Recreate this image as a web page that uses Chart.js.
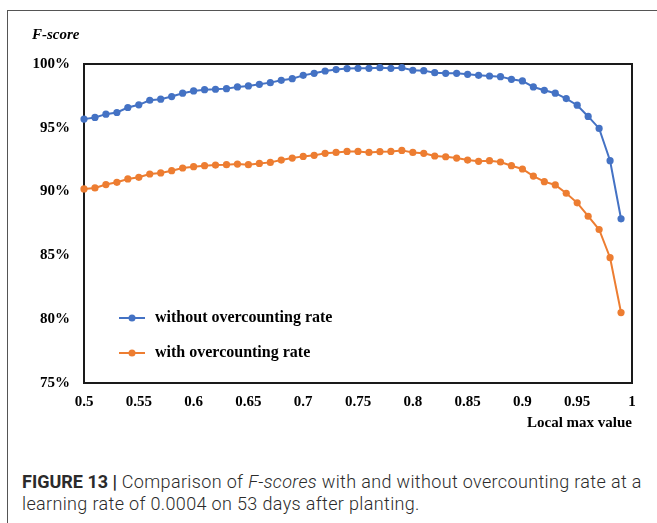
<!DOCTYPE html>
<html>
<head>
<meta charset="utf-8">
<script src="https://cdn.jsdelivr.net/npm/chart.js@4"></script>
<style>
  html, body { margin: 0; padding: 0; background: #fff; }
  #wrap { position: relative; width: 657px; height: 523px; overflow: hidden; background: #fff; }
  #frame { position: absolute; left: 7px; top: 10px; width: 700px; height: 600px;
           border-top: 1px solid #555; border-left: 1px solid #555; }
  #c { position: absolute; left: 0; top: 0; }
  #caption { position: absolute; left: 22px; top: 471px; width: 640px;
             font-family: Roboto, "Liberation Sans", sans-serif; font-weight: 300;
             font-size: 18px; letter-spacing: 0.35px; line-height: 22px; color: #2b2b2b; white-space: nowrap; }
  #caption b { font-weight: 700; letter-spacing: 0; }
</style>
</head>
<body>
<div id="wrap">
  <div id="frame"></div>
  <canvas id="c" width="657" height="440"></canvas>
  <div id="caption"><b>FIGURE 13 |</b> Comparison of <i>F-scores</i> with and without overcounting rate at a<br>learning rate of 0.0004 on 53 days after planting.</div>
</div>
<script>
// Local max threshold values (x)
const localMax = [
  0.50, 0.51, 0.52, 0.53, 0.54, 0.55, 0.56, 0.57, 0.58, 0.59,
  0.60, 0.61, 0.62, 0.63, 0.64, 0.65, 0.66, 0.67, 0.68, 0.69,
  0.70, 0.71, 0.72, 0.73, 0.74, 0.75, 0.76, 0.77, 0.78, 0.79,
  0.80, 0.81, 0.82, 0.83, 0.84, 0.85, 0.86, 0.87, 0.88, 0.89,
  0.90, 0.91, 0.92, 0.93, 0.94, 0.95, 0.96, 0.97, 0.98, 0.99
];

// F-score (%) without overcounting rate
const withoutOvercounting = [
  95.68, 95.81, 96.07, 96.20, 96.59, 96.80, 97.16, 97.24, 97.45, 97.71,
  97.89, 97.99, 98.02, 98.07, 98.20, 98.28, 98.41, 98.54, 98.72, 98.85,
  99.11, 99.27, 99.45, 99.56, 99.64, 99.66, 99.66, 99.71, 99.66, 99.71,
  99.51, 99.48, 99.32, 99.27, 99.27, 99.19, 99.11, 99.06, 99.01, 98.80,
  98.67, 98.20, 97.94, 97.71, 97.29, 96.77, 95.89, 94.95, 92.42, 87.87
];

// F-score (%) with overcounting rate
const withOvercounting = [
  90.21, 90.29, 90.55, 90.73, 90.99, 91.12, 91.38, 91.46, 91.64, 91.85,
  91.95, 92.03, 92.08, 92.11, 92.16, 92.11, 92.21, 92.29, 92.47, 92.63,
  92.76, 92.84, 93.00, 93.07, 93.15, 93.15, 93.07, 93.13, 93.15, 93.23,
  93.07, 93.00, 92.79, 92.73, 92.63, 92.47, 92.37, 92.42, 92.32, 92.03,
  91.77, 91.22, 90.78, 90.52, 89.87, 89.12, 88.07, 87.03, 84.82, 80.52
];

// Axis ticks
const xTickValues = [0.5, 0.55, 0.6, 0.65, 0.7, 0.75, 0.8, 0.85, 0.9, 0.95, 1];
const xTickLabels = ['0.5', '0.55', '0.6', '0.65', '0.7', '0.75', '0.8', '0.85', '0.9', '0.95', '1'];
const yTickValues = [75, 80, 85, 90, 95, 100];
const yTickLabels = ['75%', '80%', '85%', '90%', '95%', '100%'];

const seriesNames = ['without overcounting rate', 'with overcounting rate'];
const BLUE = '#4472C4';
const ORANGE = '#ED7D31';
const SERIF = '"Liberation Serif", "Times New Roman", serif';

const toPoints = (ys) => localMax.map((x, i) => ({ x: x, y: ys[i] }));

// Black box around the plotting area
const plotFrame = {
  id: 'plotFrame',
  beforeDatasetsDraw(chart) {
    const { ctx, chartArea: a } = chart;
    ctx.save();
    ctx.strokeStyle = '#1a1a1a';
    ctx.lineWidth = 2;
    ctx.strokeRect(a.left, a.top, a.right - a.left, a.bottom - a.top);
    ctx.restore();
  }
};

// Legend drawn inside the plot, lower-left
const innerLegend = {
  id: 'innerLegend',
  afterDatasetsDraw(chart) {
    const { ctx, chartArea: a } = chart;
    const x0 = a.left + 35;
    const rows = [a.top + 254, a.top + 289];
    ctx.save();
    chart.data.datasets.forEach((ds, i) => {
      const y = rows[i];
      ctx.strokeStyle = ds.borderColor;
      ctx.lineWidth = 2;
      ctx.beginPath();
      ctx.moveTo(x0, y);
      ctx.lineTo(x0 + 26, y);
      ctx.stroke();
      ctx.fillStyle = ds.borderColor;
      ctx.beginPath();
      ctx.arc(x0 + 13, y, 3.5, 0, Math.PI * 2);
      ctx.fill();
      ctx.fillStyle = '#000';
      ctx.font = 'bold 16px ' + SERIF;
      ctx.textAlign = 'left';
      ctx.textBaseline = 'middle';
      ctx.fillText(ds.label, x0 + 36, y);
    });
    ctx.restore();
  }
};

new Chart(document.getElementById('c'), {
  type: 'line',
  data: {
    datasets: [
      {
        label: seriesNames[0],
        data: toPoints(withoutOvercounting),
        borderColor: BLUE, backgroundColor: BLUE,
        borderWidth: 2, pointRadius: 3.6, pointHoverRadius: 3.6,
        pointBorderWidth: 0, tension: 0, clip: false
      },
      {
        label: seriesNames[1],
        data: toPoints(withOvercounting),
        borderColor: ORANGE, backgroundColor: ORANGE,
        borderWidth: 2, pointRadius: 3.6, pointHoverRadius: 3.6,
        pointBorderWidth: 0, tension: 0, clip: false
      }
    ]
  },
  options: {
    responsive: false,
    animation: false,
    events: [],
    layout: { padding: { left: 32, right: 25, top: 0, bottom: 0 } },
    plugins: {
      legend: { display: false },
      tooltip: { enabled: false },
      title: {
        display: true,
        text: 'F-score',
        align: 'start',
        color: '#000',
        font: { family: SERIF, size: 15, style: 'italic', weight: 'bold', lineHeight: 1.2 },
        padding: { top: 26, bottom: 20 }
      }
    },
    scales: {
      x: {
        type: 'linear',
        min: 0.5, max: 1,
        grid: { display: false, drawTicks: false },
        border: { display: false },
        afterBuildTicks: (s) => { s.ticks = xTickValues.map(v => ({ value: v })); },
        afterFit: (s) => { s.height = 57; },
        ticks: {
          padding: 10,
          maxRotation: 0,
          autoSkip: false,
          color: '#000',
          font: { family: SERIF, size: 15, weight: 'bold' },
          callback: (v, i) => xTickLabels[i]
        },
        title: {
          display: true,
          text: 'Local max value',
          align: 'end',
          color: '#000',
          font: { family: SERIF, size: 15, weight: 'bold', lineHeight: 1.2 },
          padding: { top: 0, bottom: 8 }
        }
      },
      y: {
        type: 'linear',
        min: 75, max: 100,
        grid: { display: false, drawTicks: false },
        border: { display: false },
        afterBuildTicks: (s) => { s.ticks = yTickValues.map(v => ({ value: v })); },
        afterFit: (s) => { s.width = 52; },
        ticks: {
          padding: 14,
          autoSkip: false,
          color: '#000',
          font: { family: SERIF, size: 15, weight: 'bold' },
          callback: (v, i) => yTickLabels[i]
        }
      }
    }
  },
  plugins: [plotFrame, innerLegend]
});
</script>
</body>
</html>
